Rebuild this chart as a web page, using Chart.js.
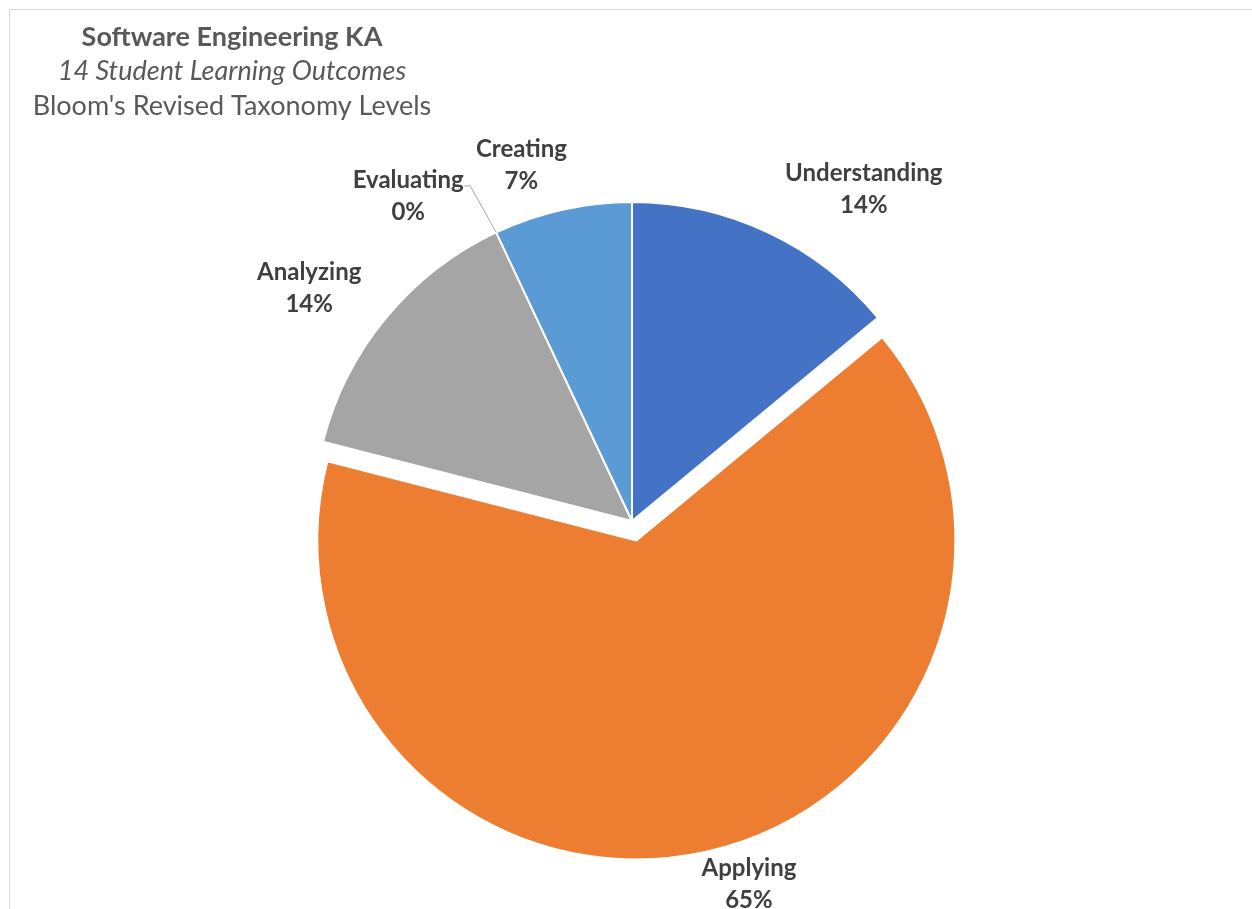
<!DOCTYPE html>
<html>
<head>
<meta charset="utf-8">
<script src="https://cdn.jsdelivr.net/npm/chart.js@4.4.1/dist/chart.umd.min.js"></script>
<style>
  html, body { margin: 0; padding: 0; background: #ffffff; }
  #wrap { position: relative; width: 1252px; height: 909px; }
</style>
</head>
<body>
<div id="wrap"><canvas id="c" width="1252" height="909"></canvas></div>
<script>
// Bloom's revised taxonomy levels for the Software Engineering KA outcomes
const categories = ['Understanding', 'Applying', 'Analyzing', 'Evaluating', 'Creating'];
const shares = [14, 65, 14, 0, 7];
const sliceColors = ['#4472C4', '#ED7D31', '#A5A5A5', '#FFC000', '#5B9BD5'];
const titleLines = ['Software Engineering KA', '14 Student Learning Outcomes', "Bloom's Revised Taxonomy Levels"];

// Layout: which slice is pulled out, label placement relative to each slice's outer mid-point
const explodedIndex = 1;
const explodeDistance = 20;
const labelShift = [[96, -43], [43, 32], [-77, -29], [-88, -36], [-41, -44]];
const withLeader = [false, false, false, true, false];

const FONT = 'Lato, "Open Sans", sans-serif';

const framePlugin = {
  id: 'frame',
  beforeDraw(chart) {
    const ctx = chart.ctx;
    ctx.save();
    ctx.strokeStyle = '#d9d9d9';
    ctx.lineWidth = 1;
    ctx.beginPath();
    ctx.moveTo(9.5, chart.height);
    ctx.lineTo(9.5, 9.5);
    ctx.lineTo(chart.width, 9.5);
    ctx.stroke();
    ctx.restore();
  }
};

// Pull one slice away from the centre along its bisector
const explodePlugin = {
  id: 'explode',
  afterDatasetsUpdate(chart) {
    const meta = chart.getDatasetMeta(0);
    const arc = meta.data[explodedIndex];
    if (!arc) return;
    const area = chart.chartArea;
    const cx = (area.left + area.right) / 2;
    const cy = (area.top + area.bottom) / 2;
    const mid = (arc.startAngle + arc.endAngle) / 2;
    arc.x = cx + explodeDistance * Math.cos(mid);
    arc.y = cy + explodeDistance * Math.sin(mid);
  }
};

const headingPlugin = {
  id: 'heading',
  afterDraw(chart) {
    const ctx = chart.ctx;
    const styles = ['bold 27px ' + FONT, 'italic 27px ' + FONT, '27px ' + FONT];
    const baselines = [46, 80, 115];
    ctx.save();
    ctx.fillStyle = '#595959';
    ctx.textAlign = 'center';
    ctx.textBaseline = 'alphabetic';
    titleLines.forEach((t, i) => {
      ctx.font = styles[i];
      ctx.fillText(t, 232, baselines[i]);
    });
    ctx.restore();
  }
};

const sliceLabelPlugin = {
  id: 'sliceLabels',
  afterDatasetsDraw(chart) {
    const ctx = chart.ctx;
    const meta = chart.getDatasetMeta(0);
    ctx.save();
    ctx.font = 'bold 24px ' + FONT;
    ctx.textAlign = 'center';
    ctx.textBaseline = 'middle';
    meta.data.forEach((arc, i) => {
      const mid = (arc.startAngle + arc.endAngle) / 2;
      const r = arc.outerRadius;
      const px = arc.x + r * Math.cos(mid);
      const py = arc.y + r * Math.sin(mid);
      const lx = px + labelShift[i][0];
      const ly = py + labelShift[i][1];
      if (withLeader[i]) {
        ctx.strokeStyle = '#a6a6a6';
        ctx.lineWidth = 1;
        ctx.beginPath();
        ctx.moveTo(lx + 56, ly - 10.5);
        ctx.lineTo(lx + 62, ly - 10.5);
        ctx.lineTo(px, py);
        ctx.stroke();
      }
      ctx.fillStyle = '#404040';
      ctx.fillText(categories[i], lx, ly - 16);
      ctx.fillText(shares[i] + '%', lx, ly + 16);
    });
    ctx.restore();
  }
};

new Chart(document.getElementById('c'), {
  type: 'pie',
  data: {
    labels: categories,
    datasets: [{
      data: shares,
      backgroundColor: sliceColors,
      borderColor: '#ffffff',
      borderWidth: 2
    }]
  },
  options: {
    responsive: false,
    animation: false,
    events: [],
    radius: 319,
    layout: { padding: { left: 12, top: 133, right: 0, bottom: 0 } },
    plugins: {
      legend: { display: false },
      title: { display: false },
      tooltip: { enabled: false }
    }
  },
  plugins: [framePlugin, explodePlugin, sliceLabelPlugin, headingPlugin]
});
</script>
</body>
</html>
